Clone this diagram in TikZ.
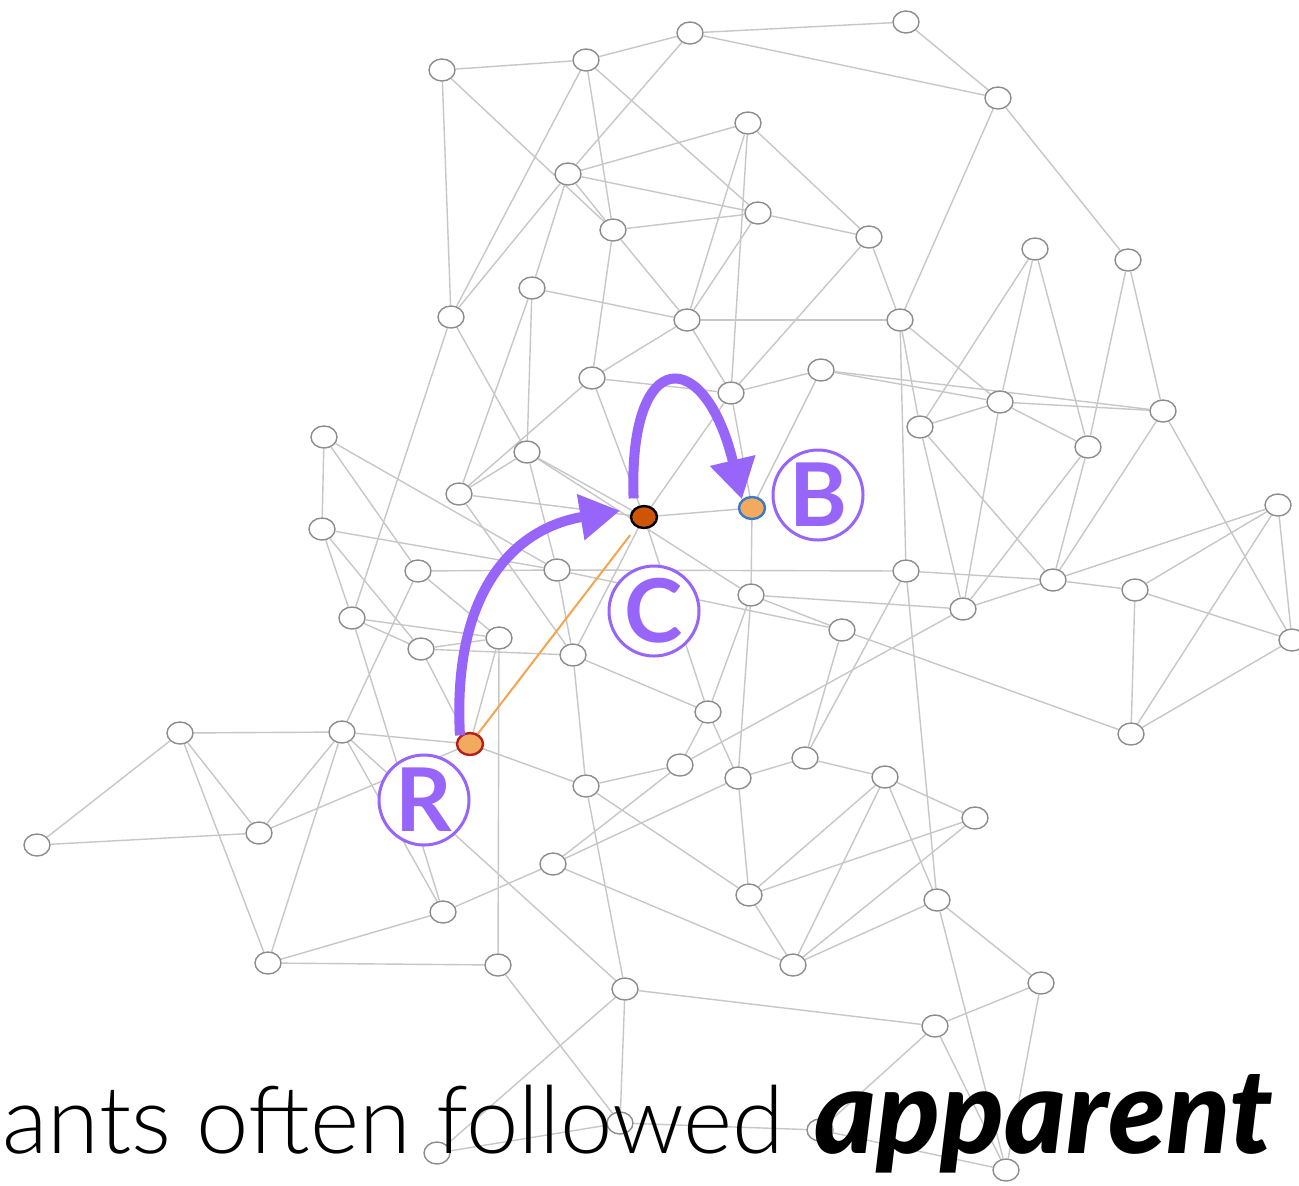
\documentclass[tikz,border=0pt]{standalone}
\usepackage{fontspec}
\setmainfont{Lato}
\newfontfamily\thinfont{Lato Light}
\newfontfamily\heavyfont{Lato Black Italic}
\usetikzlibrary{arrows.meta,shapes.geometric,backgrounds}

\definecolor{purp}{RGB}{151,101,250}
\definecolor{trailorange}{RGB}{245,165,80}
\definecolor{antorange}{RGB}{242,170,95}
\definecolor{homeorange}{RGB}{205,85,5}
\definecolor{ringblue}{RGB}{60,120,200}
\definecolor{ringred}{RGB}{180,30,30}

\begin{document}
\begin{tikzpicture}[x=0.5pt, y=-0.5pt,
  vertex/.style = {ellipse, draw=black!45, fill=white, line width=0.7pt,
    minimum width=13pt, minimum height=11pt, inner sep=0pt},
  link/.style = {draw=black!22, line width=0.7pt},
  letter/.style = {circle, draw=purp, fill=white, line width=1.5pt,
    minimum size=45pt, inner sep=0pt, text=purp,
    font=\bfseries\fontsize{44}{44}\selectfont},
  flow/.style = {draw=purp, line width=5pt, -{Triangle[length=20pt,width=22pt]}}]

  \useasboundingbox (0,0) rectangle (1299,1185);

  % plain vertices
  \foreach \i/\x/\y in {1/442/70, 2/586/60, 3/690/33, 4/906/22, 5/998/98,
      6/748/123, 7/568/174, 8/758/213, 9/613/230, 10/869/237, 11/1035/249,
      12/1128/260, 13/532/288, 14/451/317, 15/687/320, 16/900/320,
      17/592/378, 18/731/393, 19/821/370, 20/1000/402, 21/920/427,
      22/1163/411, 23/324/437, 24/527/452, 25/1088/447, 26/459/494,
      27/1278/505, 28/322/529, 29/418/571, 30/557/570, 31/906/571,
      32/1053/580, 33/751/595, 34/963/609, 35/1135/590, 36/352/618,
      37/499/638, 38/421/649, 39/573/655, 40/842/630, 41/1292/640,
      42/708/712, 43/180/733, 44/342/732, 45/1131/734, 46/680/765,
      47/738/778, 48/805/758, 49/885/777, 50/586/786, 51/975/818,
      52/37/845, 53/259/833, 54/553/864, 55/749/895, 56/937/900,
      57/443/912, 58/268/963, 59/498/965, 60/793/965, 61/1041/983,
      62/625/989, 63/935/1026, 64/437/1153, 65/1006/1170, 66/820/1130,
      67/620/1123}
    \node[vertex] (n\i) at (\x,\y) {};

  % the three marked vertices
  \node[vertex, draw=black, line width=1.2pt, fill=homeorange] (nc) at (644,517) {};
  \node[vertex, draw=ringblue, line width=1.2pt, fill=antorange] (nb) at (752,508) {};
  \node[vertex, draw=ringred, line width=1.2pt, fill=antorange] (nr) at (470,744) {};

  \begin{pgfonlayer}{background}
    \fill[white] (0,0) rectangle (1299,1185);
    \foreach \p/\q in {n1/n2, n2/n3, n3/n4, n3/n5, n4/n5, n1/n14, n1/n9,
        n2/n14, n2/n9, n2/n8, n3/n7, n7/n6, n7/n8, n9/n8, n7/n9, n7/n14,
        n7/n13, n6/n18, n6/n10, n6/n15, n8/n15, n15/n16, n9/n17, n9/n15,
        n13/n15, n13/n26, n13/n24, n14/n36, n14/n24, n17/n18, n17/n15,
        n17/n26, n18/n19, n18/n10, n8/n10, n15/n18, n5/n16, n5/n12,
        n10/n16, n11/n21, n11/n20, n11/n25, n12/n25, n12/n22, n16/n20,
        n16/n21, n16/n31, n19/n20, n19/n22, n20/n22, n20/n21, n20/n25,
        n20/n34, n21/n34, n21/n32, n25/n34, n25/n32, n22/n32, n22/n41,
        n27/n32, n27/n35, n27/n41, n27/n45, n32/n35, n35/n45, n35/n41,
        n41/n45, n40/n45, n30/n31, n31/n32, n31/n48, n31/n56, n33/n34,
        n34/n46, n32/n34, n48/n49, n49/n51, n49/n56, n56/n61, n56/n65,
        n61/n65, n61/n63, n62/n63, n63/n65, n63/n66, n55/n51, n60/n51,
        n60/n49, n60/n56, n55/n60, n55/n50, n55/n47, n55/n49, n54/n60,
        n54/n46, n54/n47, n57/n54, n50/n62, n44/n62, n62/n64, n62/n67,
        n59/n67, n64/n67, n67/n66, n66/n65, n58/n59, n58/n57, n53/nr,
        n52/n53, n52/n43, n43/n44, n43/n53, n43/n58, n44/n53, n44/n58,
        n44/nr, n44/n57, n29/n44, n28/n36, n28/n38, n28/n30, n23/n28,
        n23/n29, n23/n30, n36/n37, n36/n57, n37/n59, n24/n26, n24/nc,
        n26/nc, n17/nc, n18/nc, n18/nb, n19/nb, nc/nb, nb/n33, n24/n30,
        n29/n30, n37/n29, n37/n38, n39/n30, n39/nc, nr/n37, nr/n38,
        nr/n50, n42/n33, n42/n46, n42/n47, n40/n33, n40/n48, n47/n48,
        n46/n50, n39/n42, nc/n42, n33/n47, n50/n39, n26/n39, n24/n33,
        n30/n40, n36/n38, n38/n39}
      \draw[link] (\p) -- (\q);
  \end{pgfonlayer}

  % path actually walked
  \draw[trailorange, line width=1pt, shorten >=5pt] (nr) -- (nc);

  % the two hops
  \draw[flow, shorten >=7pt] (nr.north west)
    .. controls (452,590) and (515,528) .. (nc.north west);
  \draw[flow, shorten <=5pt] (nc.north west)
    .. controls (628,345) and (705,345) .. (nb.north west);

  \node[letter] (lb) at (818,495) {B};
  \node[letter] (lc) at (654,611) {C};
  \node[letter] (lr) at (424,800) {R};

  \node[anchor=base west, inner sep=0pt,
    font=\thinfont\fontsize{47}{47}\selectfont] (caption) at (2,1153)
    {ants often followed};
  \node[anchor=base west, inner sep=0pt,
    font=\heavyfont\fontsize{59}{59}\selectfont] (stress) at (814,1153)
    {apparent};
\end{tikzpicture}
\end{document}
